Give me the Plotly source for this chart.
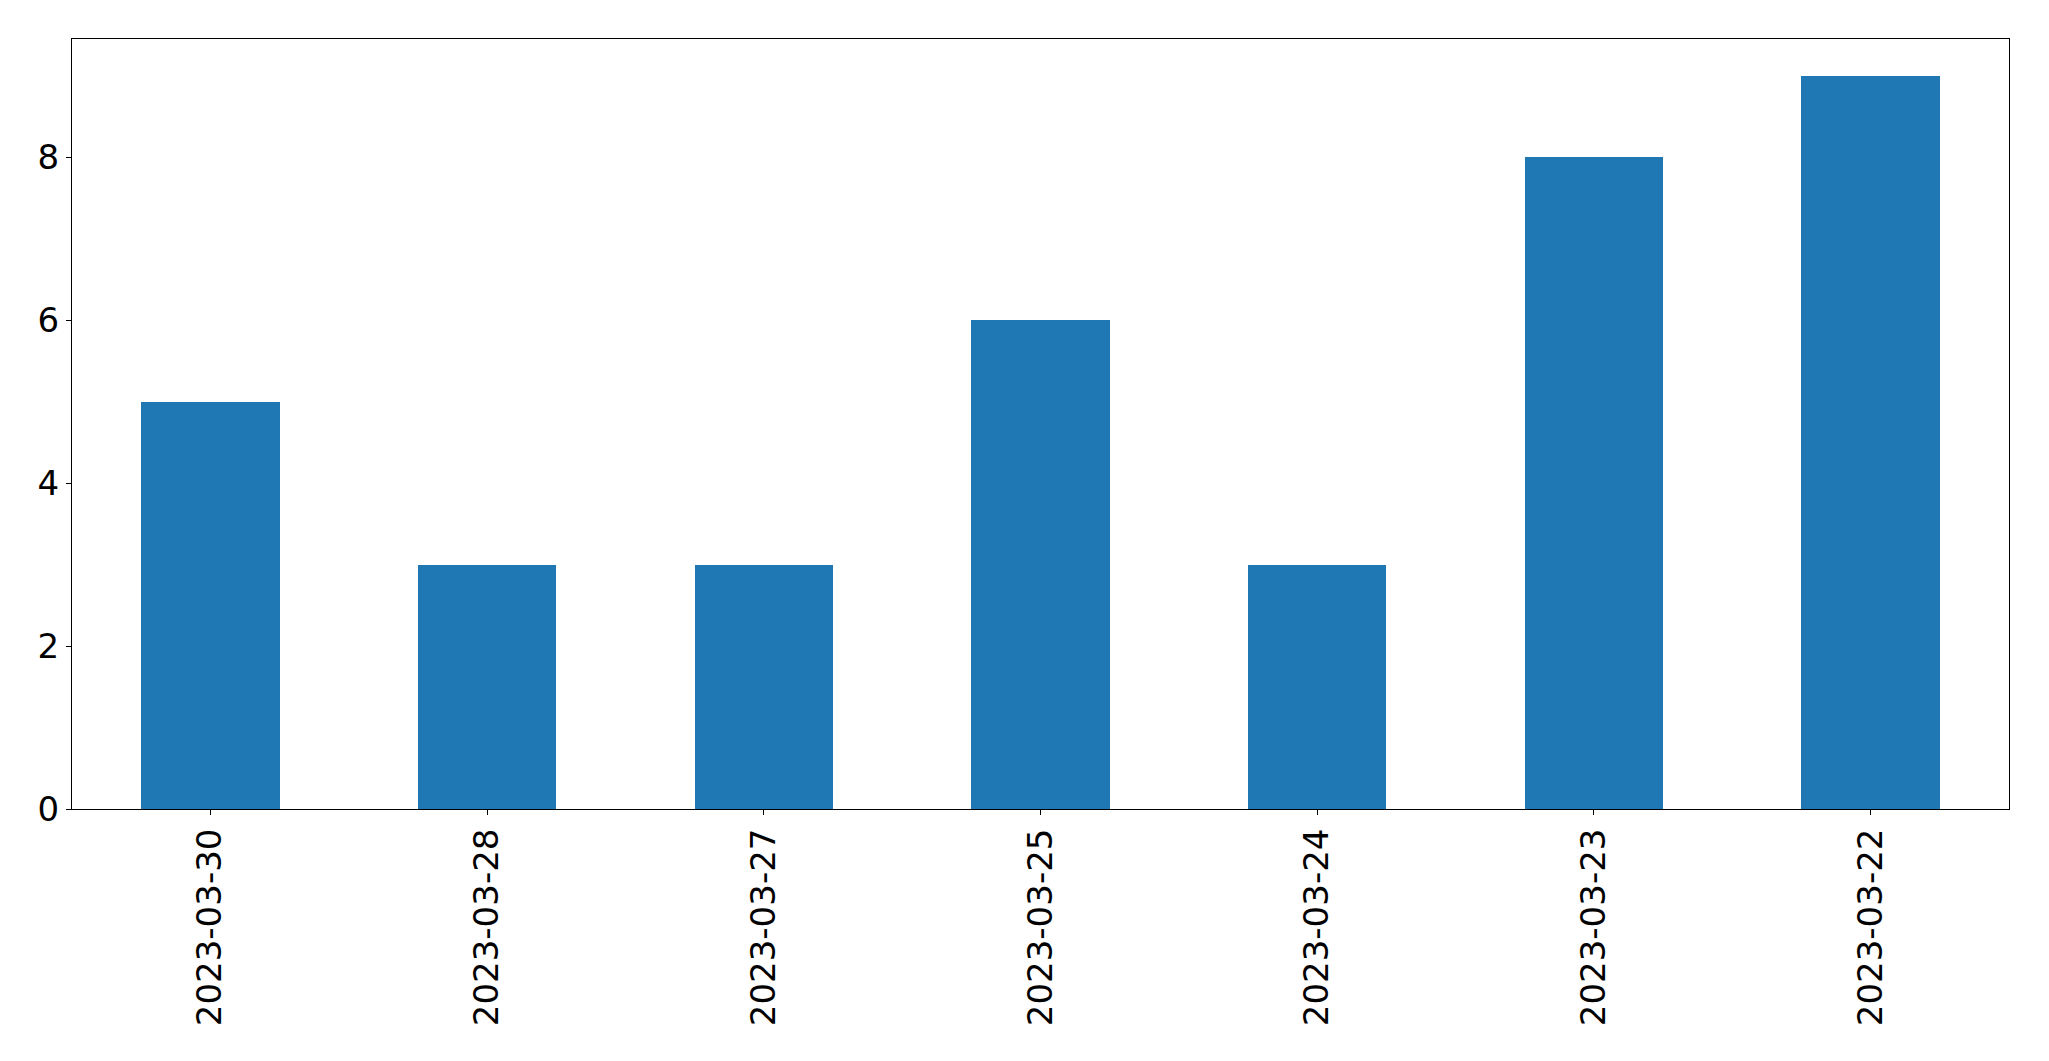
import plotly.graph_objects as go

categories = ["2023-03-30", "2023-03-28", "2023-03-27", "2023-03-25", "2023-03-24", "2023-03-23", "2023-03-22"]
values = [5, 3, 3, 6, 3, 8, 9]
y_ticks = [0, 2, 4, 6, 8]

W, H = 2041, 1053
fig = go.Figure(go.Bar(x=list(range(len(categories))), y=values, width=0.5,
                       marker=dict(color="#1f77b4", line=dict(width=0))))

font = dict(family="DejaVu Sans", size=34, color="black")
fig.update_layout(
    width=W, height=H,
    margin=dict(l=64, r=40, t=31, b=252, autoexpand=False),
    paper_bgcolor="white", plot_bgcolor="white",
    showlegend=False, font=font,
    bargap=0,
)
fig.update_xaxes(
    range=[-0.5, len(categories) - 0.5],
    tickmode="array", tickvals=list(range(len(categories))), ticktext=categories,
    tickangle=-90, ticks="outside", ticklen=5, tickwidth=1, tickcolor="black",
    showline=True, linecolor="black", linewidth=1, mirror=True,
    showgrid=False, zeroline=False, tickfont=font,
)
fig.update_yaxes(
    range=[0, 9.45],
    tickmode="array", tickvals=y_ticks, ticktext=[str(v) for v in y_ticks],
    ticks="outside", ticklen=5, tickwidth=1, tickcolor="black",
    showline=True, linecolor="black", linewidth=1, mirror=True,
    showgrid=False, zeroline=False, tickfont=font,
)
fig.write_html("out.html")
